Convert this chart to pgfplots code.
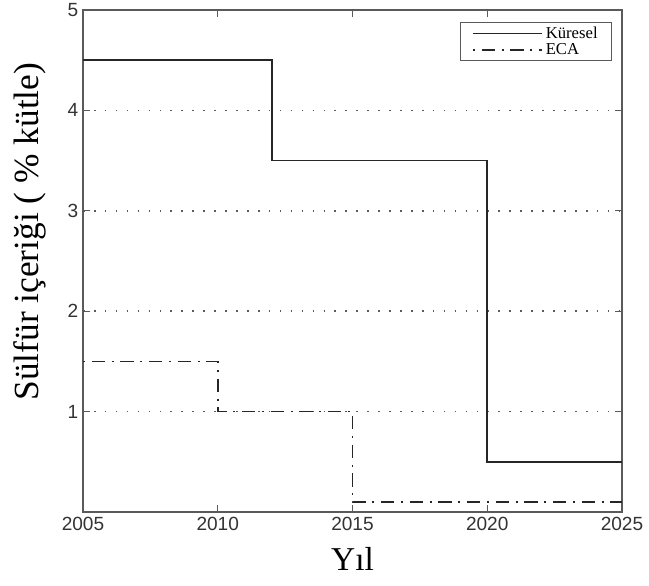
\documentclass[border=0pt]{standalone}
\usepackage{fontspec}
\setmainfont{Liberation Serif}
\newfontfamily\tickfont{Liberation Sans}
\usepackage{pgfplots}
\pgfplotsset{compat=1.18}
\definecolor{axgray}{RGB}{90,90,90}
\begin{document}
\begin{tikzpicture}
\begin{axis}[
  scale only axis,
  width=404.25pt, height=376.5pt,
  xmin=2005, xmax=2025, ymin=0, ymax=5,
  xtick={2005,2010,2015,2020,2025},
  ytick={1,2,3,4,5},
  /pgf/number format/assume math mode=true,
  /pgf/number format/1000 sep={},
  tick label style={font=\tickfont\fontsize{14.3}{15}\selectfont, text=black!80},
  tick align=inside,
  major tick length=5pt,
  tick style={axgray, line width=1pt},
  axis line style={axgray, line width=1.3pt},
  ymajorgrids,
  major grid style={axgray, line width=1.1pt, dash pattern=on 1.2pt off 7pt},
  xlabel={Yıl},
  ylabel={Sülfür içeriği ( \% kütle)},
  xlabel style={font=\fontsize{25}{27}\selectfont, yshift=-6pt},
  ylabel style={font=\fontsize{26.5}{28}\selectfont, yshift=9pt, xshift=22pt},
  legend style={at={(0.982,0.976)}, anchor=north east, draw=axgray, line width=1pt,
    font=\fontsize{12.5}{13}\selectfont, inner xsep=8.5pt, inner ysep=1pt, row sep=-1.5pt,
    legend cell align=left},
  legend image code/.code={\draw[#1, line width=1.4pt] (0pt,0pt) -- (52pt,0pt);},
]
\addplot[const plot, black!85, line width=1.3pt] coordinates {
  (2005,4.5) (2012,3.5) (2020,0.5) (2025,0.5)};
\addlegendentry{Küresel}
\addplot[const plot, black!85, line width=1.3pt, dash pattern=on 1.5pt off 5pt on 10pt off 5pt] coordinates {
  (2005,1.5) (2010,1.0) (2015,0.1) (2025,0.1)};
\addlegendentry{ECA}
\end{axis}
\pgfresetboundingbox
\path[use as bounding box] ([xshift=-62.25pt,yshift=-54.75pt]current axis.south west) rectangle ([xshift=20.25pt,yshift=7.5pt]current axis.north east);
\end{tikzpicture}
\end{document}
